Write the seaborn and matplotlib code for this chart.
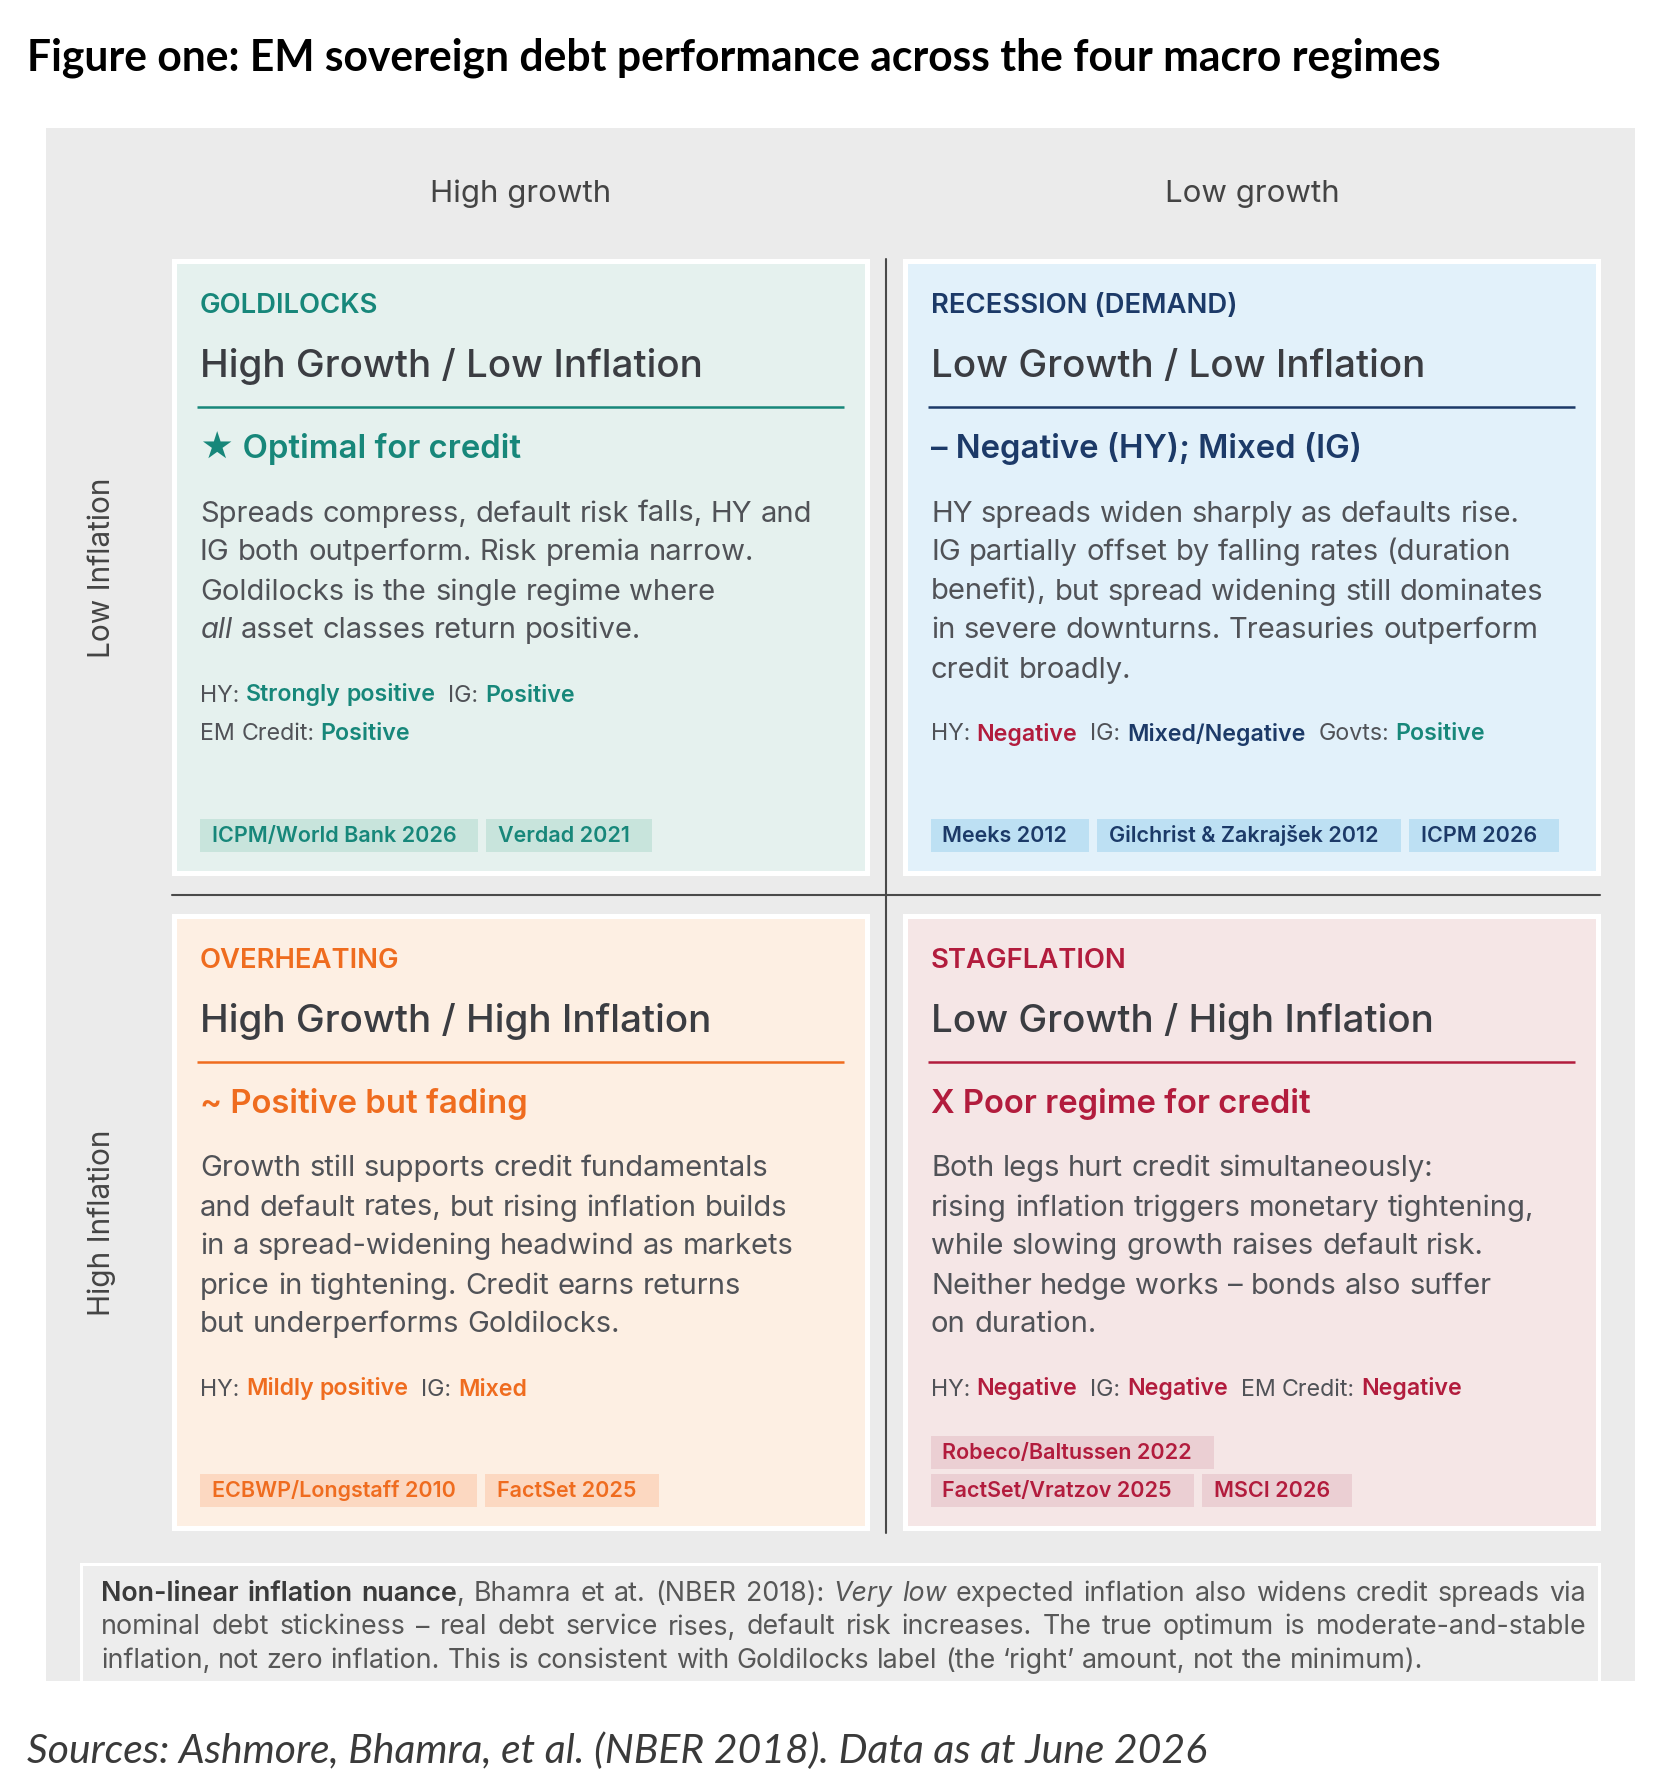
import re
import matplotlib
matplotlib.use("Agg")
import matplotlib.pyplot as plt
from matplotlib.patches import Rectangle
import seaborn as sns

# ======================
# Content of the figure
# ======================
title = "Figure one: EM sovereign debt performance across the four macro regimes"
source_note = "Sources: Ashmore, Bhamra, et al. (NBER 2018). Data as at June 2026"

growth_labels = ["High growth", "Low growth"]
inflation_labels = ["Low Inflation", "High Inflation"]

regime_names = ["GOLDILOCKS", "RECESSION (DEMAND)", "OVERHEATING", "STAGFLATION"]
regime_titles = ["High Growth / Low Inflation", "Low Growth / Low Inflation",
                 "High Growth / High Inflation", "Low Growth / High Inflation"]
verdicts = ["\u2605 Optimal for credit", "\u2013 Negative (HY); Mixed (IG)",
            "~ Positive but fading", "X Poor regime for credit"]

bodies = [
    ["Spreads compress, default risk falls, HY and",
     "IG both outperform. Risk premia narrow.",
     "Goldilocks is the single regime where",
     "*all* asset classes return positive."],
    ["HY spreads widen sharply as defaults rise.",
     "IG partially offset by falling rates (duration",
     "benefit), but spread widening still dominates",
     "in severe downturns. Treasuries outperform",
     "credit broadly."],
    ["Growth still supports credit fundamentals",
     "and default rates, but rising inflation builds",
     "in a spread-widening headwind as markets",
     "price in tightening. Credit earns returns",
     "but underperforms Goldilocks."],
    ["Both legs hurt credit simultaneously:",
     "rising inflation triggers monetary tightening,",
     "while slowing growth raises default risk.",
     "Neither hedge works \u2013 bonds also suffer",
     "on duration."],
]

ratings = [
    [[("HY", "Strongly positive"), ("IG", "Positive")], [("EM Credit", "Positive")]],
    [[("HY", "Negative"), ("IG", "Mixed/Negative"), ("Govts", "Positive")]],
    [[("HY", "Mildly positive"), ("IG", "Mixed")]],
    [[("HY", "Negative"), ("IG", "Negative"), ("EM Credit", "Negative")]],
]

references = [
    [["ICPM/World Bank 2026", "Verdad 2021"]],
    [["Meeks 2012", "Gilchrist & Zakraj\u0161ek 2012", "ICPM 2026"]],
    [["ECBWP/Longstaff 2010", "FactSet 2025"]],
    [["Robeco/Baltussen 2022"], ["FactSet/Vratzov 2025", "MSCI 2026"]],
]

note_lines = [
    "**Non-linear inflation nuance**, Bhamra et at. (NBER 2018): *Very low* expected inflation also widens credit spreads via",
    "nominal debt stickiness \u2013 real debt service rises, default risk increases. The true optimum is moderate-and-stable",
    "inflation, not zero inflation. This is consistent with Goldilocks label (the \u2018right\u2019 amount, not the minimum).",
]

# ======================
# Styles
# ======================
TEAL, NAVY, ORANGE, CRIMSON = "#17877a", "#1c3a68", "#ef6c1f", "#b21c3d"
accents = [TEAL, NAVY, ORANGE, CRIMSON]
fills = ["#e5f1ee", "#e2f1fa", "#fdefe3", "#f5e6e6"]
tag_fills = ["#c8e4dc", "#bde0f3", "#fcd8c1", "#ebcfd3"]
value_colors = [
    [[TEAL, TEAL], [TEAL]],
    [[CRIMSON, NAVY, TEAL]],
    [[ORANGE, ORANGE]],
    [[CRIMSON, CRIMSON, CRIMSON]],
]
HEAD = "#3b3d42"
BODY = "#505257"
PANEL = "#ebebeb"

sns.set_theme(style="white")
FAM = ["Inter", "DejaVu Sans"]
plt.rcParams["font.family"] = FAM

W, H = 1667, 1787
fig = plt.figure(figsize=(W / 100, H / 100), dpi=100)
ax = fig.add_axes([0, 0, 1, 1])
ax.set_xlim(0, W)
ax.set_ylim(H, 0)
ax.axis("off")
renderer = fig.canvas.get_renderer()


def text_width(s, **kw):
    t = ax.text(0, 0, s, **kw)
    w = t.get_window_extent(renderer).width
    t.remove()
    return w


def draw_runs(x, y, runs, right=None):
    # draw styled pieces one after another on one baseline;
    # with `right` given, spaces are stretched to justify the line
    pieces = []
    for s, kw in runs:
        for p in re.split(r"( +)", s):
            if p:
                pieces.append((p, kw))
    widths = []
    for p, kw in pieces:
        if p.strip() == "":
            sp = text_width("n n", **kw) - text_width("nn", **kw)
            widths.append(sp * len(p))
        else:
            widths.append(text_width(p, **kw))
    extra = 0.0
    if right is not None:
        n_sp = sum(1 for p, _ in pieces if p.strip() == "")
        if n_sp:
            extra = (right - x - sum(widths)) / n_sp
    for (p, kw), w in zip(pieces, widths):
        if p.strip() == "":
            x += w + extra
        else:
            ax.text(x, y, p, ha="left", va="baseline", **kw)
            x += w
    return x


def parse_markup(s, base, bold=None, italic=None):
    runs = []
    for part in re.split(r"(\*\*[^*]+\*\*|\*[^*]+\*)", s):
        if not part:
            continue
        if part.startswith("**"):
            runs.append((part[2:-2], {**base, **(bold or {"fontweight": "bold"})}))
        elif part.startswith("*"):
            runs.append((part[1:-1], {**base, **(italic or {"fontstyle": "italic"})}))
        else:
            runs.append((part, base))
    return runs


# ======================
# Background panel and headers
# ======================
ax.add_patch(Rectangle((46, 128), 1589, 1553, color=PANEL, lw=0))

ax.text(27, 71, title, ha="left", va="baseline", fontsize=30.7,
        fontweight="bold", family=["Lato", "DejaVu Sans"], color="black")
ax.text(27, 1763, source_note, ha="left", va="baseline", fontsize=29.4,
        fontstyle="italic", family=["Lato", "DejaVu Sans"], color="#3a3a3a")

col_x = [172, 903]
row_y = [259, 914]
box_w, box_h = 698, 617

for c, lab in enumerate(growth_labels):
    ax.text(col_x[c] + box_w / 2, 202, lab, ha="center", va="baseline",
            fontsize=22.5, color="#444444")
for r, lab in enumerate(inflation_labels):
    ax.text(102, row_y[r] + box_h / 2, lab, ha="center", va="center",
            rotation=90, fontsize=21.5, color="#444444")

# ======================
# Quadrants
# ======================
for i in range(4):
    r, c = divmod(i, 2)
    x0, y0 = col_x[c], row_y[r]
    ax.add_patch(Rectangle((x0, y0), box_w, box_h, color="white", lw=0))
    ax.add_patch(Rectangle((x0 + 5, y0 + 5), box_w - 10, box_h - 10,
                           color=fills[i], lw=0))
    tx = x0 + 28
    ax.text(tx, y0 + 54, regime_names[i], ha="left", va="baseline",
            fontsize=19.8, fontweight="semibold", color=accents[i])
    ax.text(tx, y0 + 118, regime_titles[i], ha="left", va="baseline",
            fontsize=27.8, fontweight="medium", color=HEAD)
    ax.plot([x0 + 25, x0 + box_w - 26], [y0 + 148, y0 + 148],
            color=accents[i], lw=1.8, solid_capstyle="butt")
    ax.text(tx, y0 + 199, verdicts[i], ha="left", va="baseline",
            fontsize=23.7, fontweight="semibold", color=accents[i])

    yb = y0 + 262.5
    for k, line in enumerate(bodies[i]):
        base = {"fontsize": 21, "color": BODY}
        draw_runs(tx, yb + 39 * k, parse_markup(line, base))
    y_r = yb + 39 * (len(bodies[i]) - 1) + 63

    for k, row in enumerate(ratings[i]):
        runs = []
        for j, (lab, val) in enumerate(row):
            pre = "  " if j else ""
            runs.append((pre + lab + ": ", {"fontsize": 16.7, "color": BODY}))
            runs.append((val, {"fontsize": 16.7, "fontweight": "semibold",
                               "color": value_colors[i][k][j]}))
        draw_runs(tx, y_r + 39 * k, runs)

    rows = references[i]
    for k, row in enumerate(rows):
        top = y0 + box_h - 24 - 33 - (len(rows) - 1 - k) * 38
        xt = x0 + 27.5
        for tag in row:
            kw = {"fontsize": 15.5, "fontweight": "semibold", "color": accents[i]}
            tw = text_width(tag, **kw) + 34
            ax.add_patch(Rectangle((xt, top), tw, 33, color=tag_fills[i], lw=0))
            ax.text(xt + 12, top + 23, tag, ha="left", va="baseline", **kw)
            xt += tw + 8

# dividing lines
ax.plot([886, 886], [259, 1533], color="#4a4a4a", lw=1.5)
ax.plot([172, 1600], [895, 895], color="#4a4a4a", lw=1.5)

# ======================
# Bottom note
# ======================
ax.add_patch(Rectangle((80, 1563), 1521, 118, color="white", lw=0))
ax.add_patch(Rectangle((83, 1566), 1515, 115, color="#ededed", lw=0))
for k, line in enumerate(note_lines):
    base = {"fontsize": 19.3, "color": "#575757"}
    runs = parse_markup(line, base, bold={"fontweight": "semibold", "color": "#3a3a3a"})
    right = 1586 if k < len(note_lines) - 1 else None
    draw_runs(101, 1601 + 33.5 * k, runs, right=right)

fig.savefig("out.png", dpi=100)
